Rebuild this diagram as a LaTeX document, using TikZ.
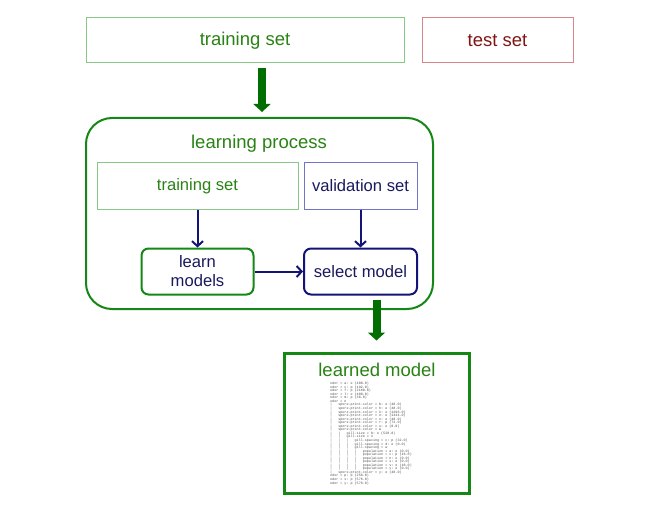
\documentclass[tikz,border=0pt]{standalone}
\usepackage{fontspec}
\setmainfont{Liberation Sans}
\setmonofont{Liberation Mono}
\usepackage{tikz}
\usetikzlibrary{positioning, arrows.meta}
\definecolor{trainline}{RGB}{135,200,135}
\definecolor{traintext}{RGB}{40,130,20}
\definecolor{testline}{RGB}{215,135,135}
\definecolor{testtext}{RGB}{130,20,20}
\definecolor{valline}{RGB}{115,115,200}
\definecolor{navytext}{RGB}{25,25,95}
\definecolor{procgreen}{RGB}{20,135,20}
\definecolor{fatgreen}{RGB}{0,110,0}
\definecolor{navyline}{RGB}{20,20,120}
\newcommand{\bigtext}{\fontsize{18.5}{22}\selectfont}
\newcommand{\smalltext}{\fontsize{16.6}{19}\selectfont}
\newcommand{\treebar}{\makebox[2.4em][l]{|}}
\tikzstyle{setbox} = [rectangle, minimum height=45pt, inner sep=0pt, text centered, line width=1pt]
\tikzstyle{trainbox} = [setbox, draw=trainline, text=traintext]
\tikzstyle{testbox} = [setbox, draw=testline, text=testtext]
\tikzstyle{valbox} = [setbox, draw=valline, text=navytext]
\tikzstyle{stepbox} = [rectangle, rounded corners=7pt, minimum width=112pt, minimum height=46pt, inner sep=0pt, align=center, font=\smalltext, line width=2pt, text=navytext]
\tikzstyle{procbox} = [rectangle, rounded corners=26pt, minimum width=347pt, minimum height=191pt, draw=procgreen, line width=2pt]
\tikzstyle{fatarrow} = [line width=8pt, draw=fatgreen, -{Triangle[width=17pt,length=8pt]}]
\tikzstyle{arrow} = [line width=2pt, draw=navyline, -{Straight Barb[length=5pt,width=11pt]}]

\begin{document}
\begin{tikzpicture}[x=1pt, y=-1pt]
\useasboundingbox (0,0) rectangle (648,516);

\node (trainset) [trainbox, minimum width=318pt] at (245,40.5) {\bigtext training set};
\node (testset) [testbox, minimum width=151pt, right=17pt of trainset] {\bigtext test set};

\node (learnproc) [procbox] at (259.5,213.5) {};
\node (proctitle) [text=traintext] at (259,144) {\bigtext learning process};
\node (intrain) [trainbox, minimum width=201pt, minimum height=46pt] at (197.5,186) {\smalltext training set};
\node (valset) [valbox, minimum width=113pt, minimum height=46pt, right=5pt of intrain] {\smalltext validation set};
\node (learnmod) [stepbox, draw=procgreen, below=38pt of intrain] {learn\\models};
\node (selmod) [stepbox, minimum width=113pt, draw=navyline, below=38pt of valset] {select model};

\node (learned) [rectangle, minimum width=185pt, minimum height=140pt, draw=procgreen, line width=3pt] at (376.5,423) {};
\node (learnedtitle) [text=traintext] at (377,370) {\bigtext learned model};
\node (tree) [anchor=north west, inner sep=0pt, align=left, text=black!70, font=\ttfamily\fontsize{3.4}{3.55}\selectfont] at (330,382) {%
odor = a: e (400.0)\\
odor = c: p (192.0)\\
odor = f: p (2160.0)\\
odor = l: e (400.0)\\
odor = m: p (36.0)\\
odor = n\\
\treebar spore-print-color = b: e (48.0)\\
\treebar spore-print-color = h: e (48.0)\\
\treebar spore-print-color = k: e (1296.0)\\
\treebar spore-print-color = n: e (1344.0)\\
\treebar spore-print-color = o: e (48.0)\\
\treebar spore-print-color = r: p (72.0)\\
\treebar spore-print-color = u: e (0.0)\\
\treebar spore-print-color = w\\
\treebar\treebar gill-size = b: e (528.0)\\
\treebar\treebar gill-size = n\\
\treebar\treebar\treebar gill-spacing = c: p (32.0)\\
\treebar\treebar\treebar gill-spacing = d: e (0.0)\\
\treebar\treebar\treebar gill-spacing = w\\
\treebar\treebar\treebar\treebar population = a: e (0.0)\\
\treebar\treebar\treebar\treebar population = c: p (16.0)\\
\treebar\treebar\treebar\treebar population = n: e (0.0)\\
\treebar\treebar\treebar\treebar population = s: e (0.0)\\
\treebar\treebar\treebar\treebar population = v: e (48.0)\\
\treebar\treebar\treebar\treebar population = y: e (0.0)\\
\treebar spore-print-color = y: e (48.0)\\
odor = p: p (256.0)\\
odor = s: p (576.0)\\
odor = y: p (576.0)};

\draw [fatarrow, shorten <=5pt, shorten >=5pt] (trainset.south -| 262,0) -- (learnproc.north -| 262,0);
\draw [arrow] (intrain) -- (learnmod);
\draw [arrow] (valset) -- (selmod);
\draw [arrow] (learnmod) -- (selmod);
\draw [fatarrow, shorten <=4pt, shorten >=11pt] (selmod.south -| learned.north) -- (learned.north);

\end{tikzpicture}
\end{document}
